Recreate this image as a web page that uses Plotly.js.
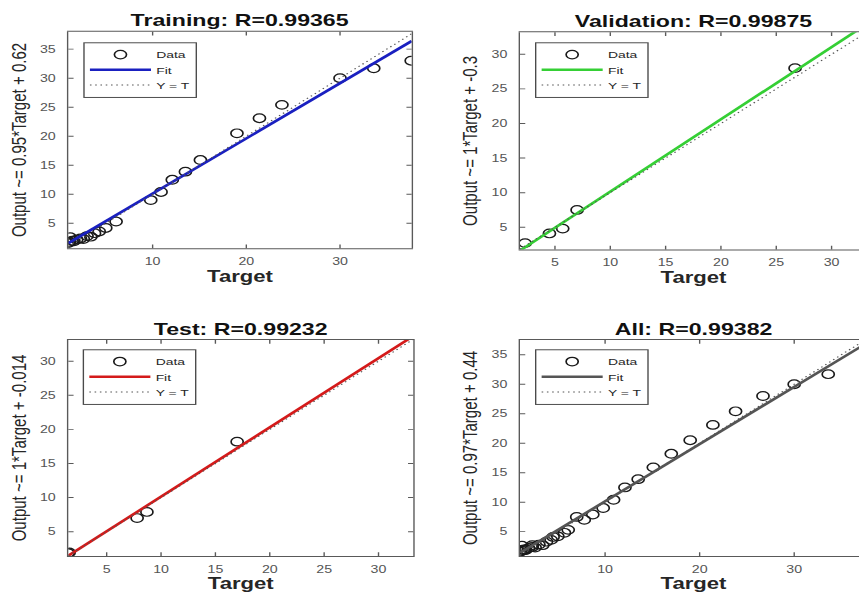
<!DOCTYPE html>
<html>
<head>
<meta charset="utf-8">
<script src="https://cdn.plot.ly/plotly-3.0.1.min.js"></script>
<style>
html,body{margin:0;padding:0;overflow:hidden;background:#fff;width:859px;height:594px;}
#plot{transform-origin:0 0;}
</style>
</head>
<body>
<div id="plot"></div>
<script>
// ---- data ----
const trainTarget = [1.0,1.1,1.2,1.4,1.6,1.9,2.3,2.6,3.0,3.4,3.8,4.3,5.0,6.1,9.8,10.9,12.1,13.5,15.1,19.0,21.4,23.8,30.0,33.6,37.6];
const trainOutput = [1.6,1.8,2.6,2.0,1.9,2.2,2.4,2.3,2.8,2.7,3.3,3.6,4.2,5.3,9.0,10.4,12.5,13.9,15.9,20.5,23.1,25.4,30.0,31.7,33.0];
const valTarget = [2.3,4.5,5.7,7.0,26.7];
const valOutput = [2.7,4.1,4.8,7.5,28.0];
const testTarget = [1.45,1.55,7.8,8.7,17.0];
const testOutput = [1.85,1.95,7.0,7.9,18.2];
const allTarget = trainTarget.concat(valTarget, testTarget);
const allOutput = trainOutput.concat(valOutput, testOutput);

// fitted regression lines (end points) and Y = T reference lines
const trainFitX = [1.0, 37.65], trainFitY = [1.57, 36.39];
const valFitX = [1.84, 33.2],  valFitY = [1.62, 34.39];
const testFitX = [1.47, 33.2], testFitY = [1.48, 33.68];
const allFitX = [1.0, 37.7],   allFitY = [1.41, 37.01];
const trainIdent = [1.0, 37.65];
const valIdent = [1.84, 33.2];
const testIdent = [1.47, 33.2];
const allIdent = [1.0, 37.7];

const panelTitles = ['Training: R=0.99365','Validation: R=0.99875','Test: R=0.99232','All: R=0.99382'];
const yLabels = ['Output ~= 0.95*Target + 0.62','Output ~= 1*Target + -0.3','Output ~= 1*Target + -0.014','Output ~= 0.97*Target + 0.44'];
const xLabel = 'Target';
const ticksTen = [10,20,30];
const ticksFiveWide = [5,10,15,20,25,30,35];
const ticksFive = [5,10,15,20,25,30];

// ---- geometry (reference image is stretched horizontally) ----
const R = 1.4, S = 1.33;
const SX = R / S, SY = 1 / S;
const FW = 880, FH = 594;
const W0 = FW / SX, H0 = FH / SY;
document.getElementById('plot').style.transform = 'scale(' + SX + ',' + SY + ')';

const FONT = 'Liberation Sans, Arial, Helvetica, sans-serif';
function dx(a, b) { return [a / FW, b / FW]; }
function dy(t, b) { return [1 - b / FH, 1 - t / FH]; }

const boxes = [
  {x: [68.3, 411.7], y: [31.7, 248.3], xr: [1.0, 37.65], yr: [0.7, 38.0], xt: ticksTen, yt: ticksFiveWide},
  {x: [520, 867],    y: [32.3, 249.5], xr: [1.84, 33.2], yr: [1.78, 33.18], xt: ticksFive, yt: ticksFive},
  {x: [68.3, 413.3], y: [340, 556],    xr: [1.47, 33.2], yr: [1.44, 33.1], xt: ticksFive, yt: ticksFive},
  {x: [520, 867],    y: [340, 556],    xr: [1.0, 37.7],  yr: [0.87, 37.5], xt: ticksTen, yt: ticksFiveWide}
];
const legendPos = [[83.3, 42.3],[535, 42.3],[82.7, 349.3],[535, 349.3]];
const fitColors = ['#1a20c0', '#35cf35', '#d41a1a', '#555555'];

const sets = [
  [trainTarget, trainOutput, trainFitX, trainFitY, trainIdent],
  [valTarget, valOutput, valFitX, valFitY, valIdent],
  [testTarget, testOutput, testFitX, testFitY, testIdent],
  [allTarget, allOutput, allFitX, allFitY, allIdent]
];

const data = [];
const layout = {
  width: W0, height: H0,
  margin: {l: 0, r: 0, t: 0, b: 0},
  paper_bgcolor: '#fff', plot_bgcolor: '#fff',
  font: {family: FONT},
  showlegend: true,
  annotations: []
};

sets.forEach(function (s, i) {
  const n = i + 1;
  const xa = n === 1 ? 'x' : 'x' + n;
  const ya = n === 1 ? 'y' : 'y' + n;
  const lg = n === 1 ? 'legend' : 'legend' + n;
  data.push({type: 'scatter', mode: 'markers', x: s[0], y: s[1], xaxis: xa, yaxis: ya, legend: lg,
    name: 'Data', marker: {symbol: 'circle-open', size: 11.5, color: '#1a1a1a', line: {width: 1.6}}});
  data.push({type: 'scatter', mode: 'lines', x: s[2], y: s[3], xaxis: xa, yaxis: ya, legend: lg,
    name: 'Fit', line: {color: fitColors[i], width: 3.2}});
  data.push({type: 'scatter', mode: 'lines', x: s[4], y: s[4], xaxis: xa, yaxis: ya, legend: lg,
    name: 'Y = T', line: {color: '#555', width: 1.4, dash: '1.5px,3.5px'}});

  const b = boxes[i];
  const common = {
    showgrid: false, zeroline: false, showline: true, mirror: 'ticks',
    linecolor: '#595959', linewidth: 1.3, ticks: 'inside', ticklen: 5, tickwidth: 1.3, tickcolor: '#595959',
    tickfont: {family: FONT, size: 13.5, color: '#555'}, tickmode: 'array'
  };
  layout[n === 1 ? 'xaxis' : 'xaxis' + n] = Object.assign({}, common, {
    domain: dx(b.x[0], b.x[1]), range: b.xr, tickvals: b.xt, anchor: ya, ticklabelstandoff: 5,
    title: {text: xLabel, font: {family: FONT, size: 21, weight: 'bold', color: '#262626'}, standoff: 2}
  });
  layout[n === 1 ? 'yaxis' : 'yaxis' + n] = Object.assign({}, common, {
    domain: dy(b.y[0], b.y[1]), range: b.yr, tickvals: b.yt, anchor: xa, ticklabelstandoff: 8,
    title: {text: yLabels[i], font: {family: FONT, size: 20, color: '#262626'}, standoff: 7}
  });
  layout[lg] = {
    x: legendPos[i][0] / FW, y: 1 - legendPos[i][1] / FH, xanchor: 'left', yanchor: 'top',
    bgcolor: '#fff', bordercolor: '#4a4a4a', borderwidth: 1.3,
    font: {family: FONT, size: 13.2, color: '#262626'}, itemwidth: 58, tracegroupgap: 0
  };
  layout.annotations.push({
    xref: 'paper', yref: 'paper', x: (b.x[0] + b.x[1]) / 2 / FW, y: 1 - b.y[0] / FH,
    xanchor: 'center', yanchor: 'bottom', showarrow: false, text: panelTitles[i],
    font: {family: FONT, size: 22, weight: 'bold', color: '#111'}
  });
});

Plotly.newPlot('plot', data, layout, {displayModeBar: false, staticPlot: true});
</script>
</body>
</html>
